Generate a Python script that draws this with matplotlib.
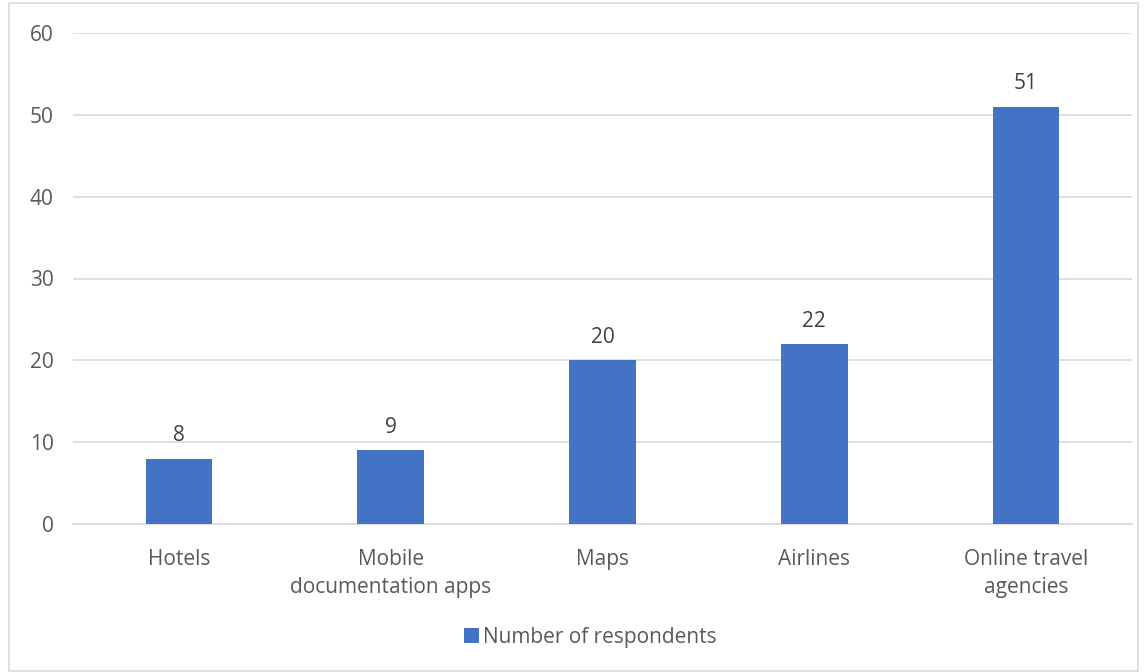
import matplotlib.pyplot as plt
from matplotlib.patches import Rectangle

categorias = ['Hotels', 'Mobile\ndocumentation apps', 'Maps', 'Airlines', 'Online travel\nagencies']
respondentes = [8, 9, 20, 22, 51]
serie = 'Number of respondents'

azul = '#4472C4'
cinza_texto = '#595959'
cinza_linha = '#D9D9D9'

plt.rcParams['font.family'] = ['Open Sans', 'DejaVu Sans']
tam = 15

fig = plt.figure(figsize=(11.47, 6.72), dpi=100)
ax = fig.add_axes([73 / 1147, 1 - 524 / 672, (1132 - 73) / 1147, (524 - 33) / 672])

x = range(len(categorias))
barras = ax.bar(x, respondentes, width=0.315, color=azul, label=serie, zorder=3)

for b, v in zip(barras, respondentes):
    ax.text(b.get_x() + b.get_width() / 2, v + 1.5, str(v), ha='center', va='bottom',
            fontsize=tam, color='#404040')

ax.set_ylim(0, 60)
ax.set_xlim(-0.5, len(categorias) - 0.5)
ax.set_yticks(range(0, 61, 10))
ax.set_xticks(list(x))
ax.set_xticklabels(categorias, fontsize=tam, color=cinza_texto, linespacing=1.45)
ax.tick_params(axis='y', labelsize=tam, labelcolor=cinza_texto, length=0, pad=14)
ax.tick_params(axis='x', length=0, pad=18)
ax.grid(axis='y', color=cinza_linha, linewidth=1.2, zorder=0)
for lado in ['top', 'right', 'left']:
    ax.spines[lado].set_visible(False)
ax.spines['bottom'].set_color(cinza_linha)
ax.spines['bottom'].set_linewidth(1.2)

# legenda um pouco deslocada para a direita, como no original
ax.legend(loc='center', bbox_to_anchor=(0.5 + 17 / 1147, (672 - 637) / 672), bbox_transform=fig.transFigure,
          frameon=False, fontsize=tam, handlelength=0.7, handleheight=0.7, handletextpad=0.2,
          labelcolor=cinza_texto)

# borda em volta da figura
fig.patches.append(Rectangle((9 / 1147, 0.002), 1 - 18 / 1147, 0.994, transform=fig.transFigure,
                             fill=False, edgecolor=cinza_linha, linewidth=1.2))

fig.savefig('out.png', dpi=100)
